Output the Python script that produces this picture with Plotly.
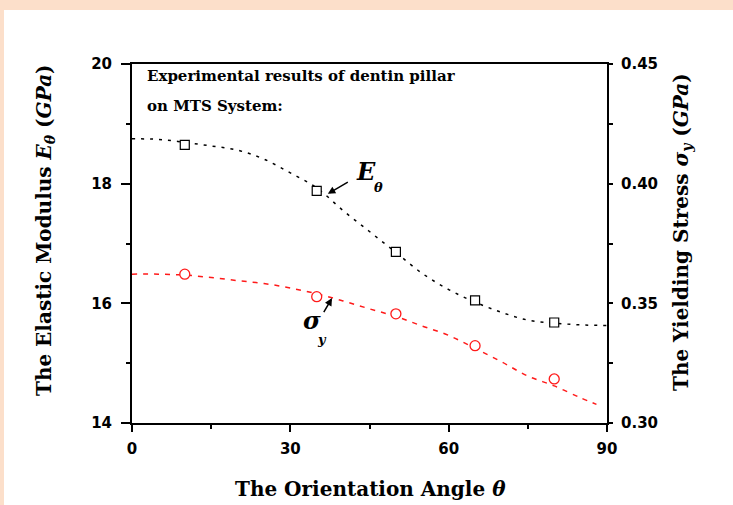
import plotly.graph_objects as go

# Measured points: dentin pillars tested on the MTS system
angles = [10, 35, 50, 65, 80]
modulus = [18.65, 17.88, 16.86, 16.05, 15.68]          # GPa
yield_stress = [0.3622, 0.3528, 0.3456, 0.3323, 0.3184]  # GPa

# Fitted trend curves
fit_angle_E = [0, 5, 10, 15, 20, 25, 30, 35, 40, 45, 50, 55, 60, 65, 70, 75, 80, 85, 90]
fit_E = [18.75, 18.74, 18.69, 18.63, 18.56, 18.41, 18.18, 17.93, 17.55, 17.20, 16.85,
         16.50, 16.23, 16.02, 15.85, 15.72, 15.67, 15.64, 15.63]
fit_angle_s = [0, 5, 10, 15, 20, 25, 30, 35, 40, 45, 50, 55, 60, 65, 70, 75, 80, 85, 88]
fit_s = [0.3622, 0.3622, 0.3618, 0.3608, 0.3595, 0.3583, 0.3564, 0.3540, 0.3510, 0.3477,
         0.3445, 0.3405, 0.3366, 0.3312, 0.3256, 0.3196, 0.3155, 0.3105, 0.3078]

x_ticks = [0, 30, 60, 90]
e_ticks = [14, 16, 18, 20]
s_ticks = [0.30, 0.35, 0.40, 0.45]

W, H = 733, 505
L, R, T, B = 132, 126, 64, 82
pw, ph = W - L - R, H - T - B


def px(x):
    return (x - L) / pw


def py(y):
    return (H - B - y) / ph


SERIF = "DejaVu Serif"
SANS = "DejaVu Sans"

fig = go.Figure()
fig.add_trace(go.Scatter(x=fit_angle_E, y=fit_E, mode="lines",
                         line=dict(color="black", width=1.5, dash="3px,6px", shape="spline"),
                         showlegend=False))
fig.add_trace(go.Scatter(x=fit_angle_s, y=fit_s, mode="lines", yaxis="y2",
                         line=dict(color="#ff1a1a", width=1.5, dash="5px,6px", shape="spline"),
                         showlegend=False))
fig.add_trace(go.Scatter(x=angles, y=modulus, mode="markers",
                         marker=dict(symbol="square", size=9, color="white",
                                     line=dict(color="black", width=1.2)),
                         showlegend=False))
fig.add_trace(go.Scatter(x=angles, y=yield_stress, mode="markers", yaxis="y2",
                         marker=dict(symbol="circle", size=10, color="white",
                                     line=dict(color="#ff1a1a", width=1.3)),
                         showlegend=False))

tickfont = dict(family=SANS, size=15, color="black", weight="bold")
axis_common = dict(showline=True, linecolor="black", linewidth=2, ticks="outside",
                   tickcolor="black", tickwidth=1.5, showgrid=False, zeroline=False,
                   tickfont=tickfont)

fig.update_layout(
    width=W, height=H, autosize=False,
    margin=dict(l=L, r=R, t=T, b=B, pad=0),
    paper_bgcolor="#fcdfca", plot_bgcolor="white",
    xaxis=dict(range=[0, 90], tickvals=x_ticks, ticklen=7, mirror=True,
               minor=dict(tickvals=[15, 45, 75], ticklen=4, tickcolor="black", ticks="outside", tickwidth=1.5),
               ticklabelstandoff=4, **axis_common),
    yaxis=dict(range=[14, 20], tickvals=e_ticks, ticklen=9,
               minor=dict(tickvals=[15, 17, 19], ticklen=4, tickcolor="black", ticks="outside", tickwidth=1.5),
               ticklabelstandoff=6, **axis_common),
    yaxis2=dict(range=[0.30, 0.45], tickvals=s_ticks, tickformat=".2f", ticklen=4,
                overlaying="y", side="right",
                minor=dict(tickvals=[0.325, 0.375, 0.425], ticklen=4, tickcolor="black", ticks="outside", tickwidth=1.5),
                ticklabelstandoff=5, **axis_common),
)

# White page with the peach frame on the top and left edges
fig.add_shape(type="rect", xref="paper", yref="paper", layer="below",
              x0=px(4), x1=px(W + 2), y0=py(H + 2), y1=py(10),
              fillcolor="white", line=dict(width=0))

ann = []
ann.append(dict(text="The Orientation Angle <i>θ</i>", x=px(370), y=py(489),
                font=dict(family=SERIF, size=20, color="black", weight="bold")))
ann.append(dict(text="The Elastic Modulus <i>E</i><sub><i>θ</i></sub> (<i>GPa</i>)", x=px(45), y=py(230),
                textangle=-90, font=dict(family=SERIF, size=20, color="black", weight="bold")))
ann.append(dict(text="The Yielding Stress <i>σ</i><sub><i>y</i></sub> (<i>GPa</i>)", x=px(682), y=py(232),
                textangle=-90, font=dict(family=SERIF, size=20, color="black", weight="bold")))
ann.append(dict(text="Experimental results of dentin pillar", x=px(145), y=py(76), xanchor="left",
                font=dict(family=SERIF, size=15, color="black", weight="bold")))
ann.append(dict(text="on MTS System:", x=px(145), y=py(106), xanchor="left",
                font=dict(family=SERIF, size=15, color="black", weight="bold")))
ann.append(dict(text="<i>E</i>", x=px(366), y=py(171),
                font=dict(family=SERIF, size=24, color="black", weight="bold")))
ann.append(dict(text="<i>θ</i>", x=px(378), y=py(187),
                font=dict(family=SERIF, size=13, color="black", weight="bold")))
ann.append(dict(text="<i>σ</i>", x=px(312), y=py(320),
                font=dict(family=SERIF, size=24, color="black", weight="bold")))
ann.append(dict(text="<i>y</i>", x=px(322), y=py(339),
                font=dict(family=SERIF, size=13, color="black", weight="bold")))
for a in ann:
    a.update(xref="paper", yref="paper", showarrow=False)
    a.setdefault("xanchor", "center")
    a.setdefault("yanchor", "middle")

# Pointer arrows from the labels to their curves
ann.append(dict(x=37.1, y=17.83, xref="x", yref="y", ax=22, ay=-13, text=" ",
                font=dict(size=2), showarrow=True, arrowhead=2, arrowsize=1,
                arrowwidth=1.5, arrowcolor="black"))
ann.append(dict(x=37.9, y=0.3522, xref="x", yref="y2", ax=-10, ay=17, text=" ",
                font=dict(size=2), showarrow=True, arrowhead=2, arrowsize=1,
                arrowwidth=1.5, arrowcolor="black"))
fig.update_layout(annotations=ann)

fig.write_html("out.html")
